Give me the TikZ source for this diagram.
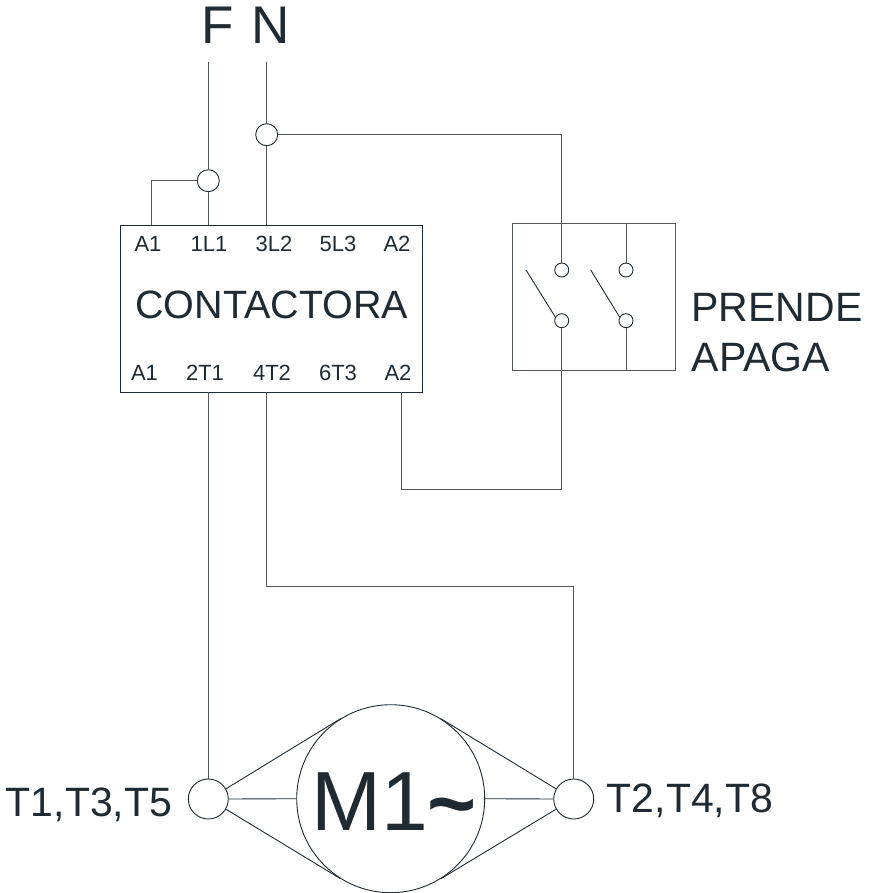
\documentclass[tikz,border=0pt]{standalone}
\usepackage{fontspec}
\setmainfont{Liberation Sans}
\definecolor{ink}{HTML}{1F2A33}
\definecolor{wire}{HTML}{50565C}
\newcommand{\px}[1]{\fontsize{#1}{#1}\selectfont}
\begin{document}
\begin{tikzpicture}[x=1pt,y=-1pt,
  wireline/.style={draw=wire,line width=1pt},
  boxline/.style={draw=ink,line width=0.9pt},
  junction/.style={circle,draw=ink,line width=0.9pt,fill=white,inner sep=0pt,minimum size=22pt},
  contact/.style={circle,draw=ink,line width=0.9pt,fill=white,inner sep=0pt,minimum size=14pt},
  terminal/.style={circle,draw=ink,line width=0.9pt,fill=white,inner sep=0pt,minimum size=40pt},
  lbl/.style={text=ink,inner sep=0pt,anchor=base},
  small/.style={lbl,font=\px{22}},
  big/.style={lbl,font=\px{41}},
  huge/.style={lbl,font=\px{53}}
]
\useasboundingbox (0,0) rectangle (870,893);
% free ends and bends
\coordinate (fTop) at (208.3,62);
\coordinate (nTop) at (266.7,62);
\coordinate (a1In) at (151.3,225.3);
\coordinate (l1In) at (208.3,225.3);
\coordinate (l2In) at (266.7,225.3);
\coordinate (t1Out) at (208.3,392.3);
\coordinate (t2Out) at (266.7,392.3);
\coordinate (a2Out) at (401.7,392.3);
\coordinate (sw1Free) at (526,270);
\coordinate (sw2Free) at (590.7,270);
\coordinate (sw2Top) at (626,224);
\coordinate (sw2Bot) at (626,370);
\coordinate (swBend) at (561.7,489);
\coordinate (motorBend) at (573.7,586);
% shapes
\node[draw=ink,line width=1pt,fill=white,minimum width=302pt,minimum height=167pt,inner sep=0pt] (cont) at (271.3,308.8) {};
\node[draw=wire,line width=1pt,minimum width=163pt,minimum height=146pt,inner sep=0pt] (sw) at (593.8,297) {};
\node[junction] (jF) at (208.3,180.7) {};
\node[junction] (jN) at (266.7,134.7) {};
\node[contact] (c1t) at (561.7,270) {};
\node[contact] (c2t) at (626,270) {};
\node[contact] (c1b) at (561.7,320.7) {};
\node[contact] (c2b) at (626,320.7) {};
\node[terminal] (tL) at (208.3,799) {};
\node[terminal] (tR) at (573.7,799) {};
\node[circle,draw=ink,line width=0.9pt,inner sep=0pt,minimum size=188pt] (motor) at (390.7,798.7) {};
% connectors
\draw[wireline] (fTop) -- (jF);
\draw[wireline] (jF) -- (l1In);
\draw[wireline] (nTop) -- (jN);
\draw[wireline] (jN) -- (l2In);
\draw[wireline] (a1In) |- (jF);
\draw[wireline] (jN) -| (c1t);
\draw[wireline] (sw2Top) -- (c2t);
\draw[wireline] (c2b) -- (sw2Bot);
\draw[wireline] (c1b) -- (swBend) -| (a2Out);
\draw[wireline] (t1Out) -- (tL);
\draw[wireline] (t2Out) |- (motorBend) -- (tR);
\draw[boxline] (sw1Free) -- (c1b.150);
\draw[boxline] (sw2Free) -- (c2b.150);
\foreach \a/\b in {122/30,180/0,238/-30}{\draw[boxline] (motor.\a) -- (tL.\b);}
\foreach \a/\b in {58/150,0/180,-58/210}{\draw[boxline] (motor.\a) -- (tR.\b);}
% labels
\node[huge] (lF) at (217.5,44) {F};
\node[huge] (lN) at (271,44) {N};
\node[small] (a) at (148,251.7) {A1};
\node[small] (b) at (209,251.7) {1L1};
\node[small] (c) at (274,251.7) {3L2};
\node[small] (d) at (338,251.7) {5L3};
\node[small] (e) at (397,251.7) {A2};
\node[lbl,font=\px{39.5}] (name) at (271.7,318) {CONTACTORA};
\node[small] (f) at (144.5,380) {A1};
\node[small] (g) at (205,380) {2T1};
\node[small] (h) at (272,380) {4T2};
\node[small] (i) at (338,380) {6T3};
\node[small] (j) at (398,380) {A2};
\node[big] (p1) at (777,321.5) {PRENDE};
\node[big] (p2) at (761,371.5) {APAGA};
\node[big] (t1) at (89,816.7) {T1,T3,T5};
\node[big] (t2) at (690,812.7) {T2,T4,T8};
\node[lbl,font=\px{84}] (m) at (394,830) {M1\raisebox{-0.03em}{\bfseries\char`\~}};
\end{tikzpicture}
\end{document}
